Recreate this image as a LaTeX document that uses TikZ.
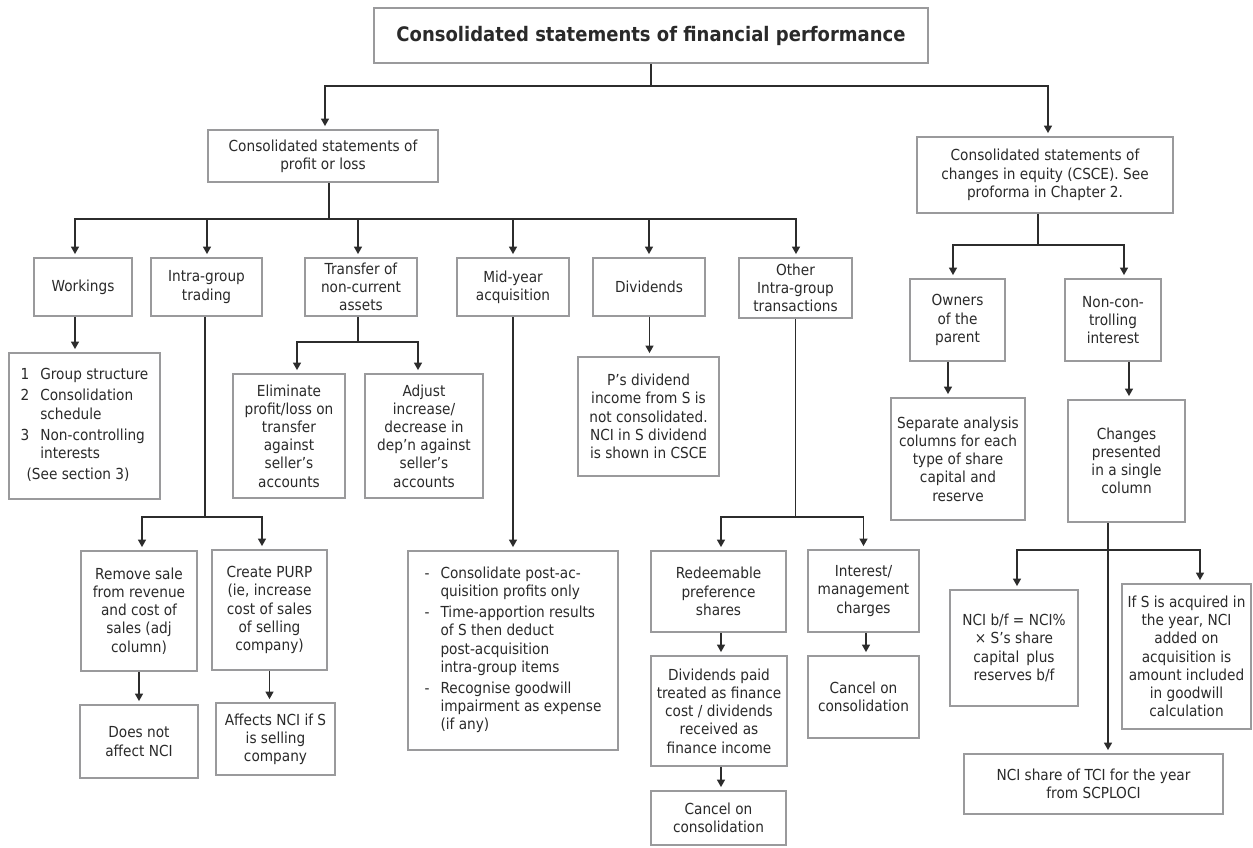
\documentclass[tikz,border=0pt]{standalone}
\usepackage{fontspec}
\setmainfont{DejaVu Sans}[FakeStretch=0.9]
\usetikzlibrary{arrows.meta}

\definecolor{boxline}{HTML}{9A9A9C}
\definecolor{ink}{HTML}{2A2A2A}
\definecolor{wirecol}{HTML}{2C2C2C}

\tikzset{
  x=1pt, y=-1pt,
  box/.style={draw=boxline, line width=1.8pt, fill=white, inner sep=0pt,
    align=center, text=ink, font=\fontsize{15.2}{18.2}\selectfont},
  wire/.style={draw=wirecol, line width=1.4pt},
  arr/.style={wire, -{Triangle[width=8pt,length=7.5pt]}, shorten >=3pt},
}

\begin{document}
\begin{tikzpicture}
\useasboundingbox (0,0) rectangle (1253,848);

% --- top level ---
\node[box, minimum width=554, minimum height=55, font=\fontsize{20}{24}\selectfont\bfseries]
  (top) at (651,35.5) {Consolidated statements of financial performance};
\node[box, minimum width=230, minimum height=52] (cspl) at (323,156)
  {Consolidated statements of\\profit or loss};
\node[box, minimum width=256, minimum height=76] (csce) at (1045,175)
  {Consolidated statements of\\changes in equity (CSCE). See\\proforma in Chapter 2.};

% --- profit or loss: second row ---
\node[box, minimum width=98,  minimum height=58] (work)  at (83,287)    {Workings};
\node[box, minimum width=111, minimum height=58] (igt)   at (206.5,287) {Intra-group\\trading};
\node[box, minimum width=112, minimum height=58] (tnca)  at (361,287)   {Transfer of\\non-current\\assets};
\node[box, minimum width=112, minimum height=58] (midy)  at (513,287)   {Mid-year\\acquisition};
\node[box, minimum width=112, minimum height=58] (divs)  at (649,287)   {Dividends};
\node[box, minimum width=113, minimum height=60] (other) at (795.5,288) {Other\\Intra-group\\transactions};

% --- profit or loss: details ---
\node[box, minimum width=151, minimum height=146] (list) at (84.5,426)
  {\begin{tabular}{@{}l@{\hspace{11pt}}l@{}}
   1 & Group structure\\[3pt]
   2 & Consolidation\\
     & schedule\\[3pt]
   3 & Non-controlling\\
     & interests\\[3pt]
   \multicolumn{2}{@{\hspace{6pt}}l@{}}{(See section 3)}
   \end{tabular}};
\node[box, minimum width=112, minimum height=124] (elim) at (289,436)
  {Eliminate\\profit/loss on\\transfer\\against\\seller's\\accounts};
\node[box, minimum width=118, minimum height=124] (adj) at (424,436)
  {Adjust\\increase/\\decrease in\\dep'n against\\seller's\\accounts};
\node[box, minimum width=141, minimum height=119] (pdiv) at (648.5,416.5)
  {P's dividend\\income from S is\\not consolidated.\\NCI in S dividend\\is shown in CSCE};

\node[box, minimum width=116, minimum height=120] (rem) at (139,611)
  {Remove sale\\from revenue\\and cost of\\sales (adj\\column)};
\node[box, minimum width=115, minimum height=120] (purp) at (269.5,610)
  {Create PURP\\(ie, increase\\cost of sales\\of selling\\company)};
\node[box, minimum width=118, minimum height=73] (dna) at (139,741.5)
  {Does not\\affect NCI};
\node[box, minimum width=119, minimum height=72] (aff) at (275.5,739)
  {Affects NCI if S\\is selling\\company};

\node[box, minimum width=210, minimum height=199] (mlist) at (513,650.5)
  {\begin{tabular}{@{}l@{\hspace{11pt}}l@{}}
   - & Consolidate post-ac-\\
     & quisition profits only\\[3pt]
   - & Time-apportion results\\
     & of S then deduct\\
     & post-acquisition\\
     & intra-group items\\[3pt]
   - & Recognise goodwill\\
     & impairment as expense\\
     & (if any)
   \end{tabular}};

\node[box, minimum width=135, minimum height=81]  (red)   at (718.5,591.5) {Redeemable\\preference\\shares};
\node[box, minimum width=136, minimum height=110] (dpaid) at (719,711)
  {Dividends paid\\treated as finance\\cost / dividends\\received as\\finance income};
\node[box, minimum width=135, minimum height=54]  (canc1) at (718.5,818) {Cancel on\\consolidation};
\node[box, minimum width=111, minimum height=82]  (int)   at (863.5,591) {Interest/\\management\\charges};
\node[box, minimum width=111, minimum height=82]  (canc2) at (863.5,697) {Cancel on\\consolidation};

% --- changes in equity ---
\node[box, minimum width=95,  minimum height=82]  (own) at (957.5,320) {Owners\\of the\\parent};
\node[box, minimum width=96,  minimum height=82]  (nci) at (1113,320)  {Non-con-\\trolling\\interest};
\node[box, minimum width=134, minimum height=122] (sep) at (958,459)
  {Separate analysis\\columns for each\\type of share\\capital and\\reserve};
\node[box, minimum width=117, minimum height=122] (chg) at (1126.5,461)
  {Changes\\presented\\in a single\\column};
\node[box, minimum width=128, minimum height=116] (ncibf) at (1014,648)
  {NCI b/f = NCI\%\\× S's share\\capital\, plus\\reserves b/f};
\node[box, minimum width=129, minimum height=145] (ifs) at (1186.5,656.5)
  {If S is acquired in\\the year, NCI\\added on\\acquisition is\\amount included\\in goodwill\\calculation};
\node[box, minimum width=259, minimum height=60] (ncis) at (1093.5,784)
  {NCI share of TCI for the year\\from SCPLOCI};

% --- connectors: top level ---
\draw[wire] (top.south) -- ++(0,22) coordinate (b0);
\draw[arr] (b0) -| ([xshift=2pt]cspl.north);
\draw[arr] (b0) -| ([xshift=3pt]csce.north);

% --- connectors: profit or loss ---
\draw[wire] ([xshift=6pt]cspl.south) -- ++(0,36) coordinate (b1);
\draw[arr] (b1) -| ([xshift=-8pt]work.north);
\draw[arr] (b1) -| ([xshift=0.5pt]igt.north);
\draw[arr] (b1) -| ([xshift=-3pt]tnca.north);
\draw[arr] (b1) -| (midy.north);
\draw[arr] (b1) -| (divs.north);
\draw[arr] (b1) -| ([xshift=0.5pt]other.north);

\draw[arr] ([xshift=-8pt]work.south) -- ([xshift=-8pt]work.south |- list.north);

\draw[wire] ([xshift=-1.5pt]igt.south) -- ++(0,200) coordinate (b2);
\draw[arr] (b2) -| ([xshift=3pt]rem.north);
\draw[arr] (b2) -| ([xshift=-7.5pt]purp.north);
\draw[arr] (rem.south) -- (dna.north);
\draw[arr] (purp.south) -- (purp.south |- aff.north);

\draw[wire] ([xshift=-3pt]tnca.south) -- ++(0,25) coordinate (b3);
\draw[arr] (b3) -| ([xshift=8pt]elim.north);
\draw[arr] (b3) -| ([xshift=-6pt]adj.north);

\draw[arr] (midy.south) -- (mlist.north);
\draw[arr] ([xshift=0.5pt]divs.south) -- ([xshift=0.5pt]divs.south |- pdiv.north);

\draw[wire] (other.south) -- ++(0,198) coordinate (b4);
\draw[arr] (b4) -| ([xshift=2.5pt]red.north);
\draw[arr] (b4) -| (int.north);
\draw[arr] ([xshift=2.5pt]red.south) -- ([xshift=2.5pt]red.south |- dpaid.north);
\draw[arr] ([xshift=2pt]dpaid.south) -- ([xshift=2pt]dpaid.south |- canc1.north);
\draw[arr] ([xshift=2.5pt]int.south) -- ([xshift=2.5pt]int.south |- canc2.north);

% --- connectors: changes in equity ---
\draw[wire] ([xshift=-7pt]csce.south) -- ++(0,31) coordinate (b5);
\draw[arr] (b5) -| ([xshift=-4.5pt]own.north);
\draw[arr] (b5) -| ([xshift=11pt]nci.north);
\draw[arr] ([xshift=-9.5pt]own.south) -- ([xshift=-9.5pt]own.south |- sep.north);
\draw[arr] ([xshift=16pt]nci.south) -- ([xshift=16pt]nci.south |- chg.north);

\draw[arr] ([xshift=-18.5pt]chg.south) -- ([xshift=-18.5pt]chg.south |- ncis.north);
\coordinate (b6) at ([xshift=-18.5pt,yshift=-27pt]chg.south);
\draw[arr] (b6) -| ([xshift=3pt]ncibf.north);
\draw[arr] (b6) -| ([xshift=13.5pt]ifs.north);
\end{tikzpicture}
\end{document}
